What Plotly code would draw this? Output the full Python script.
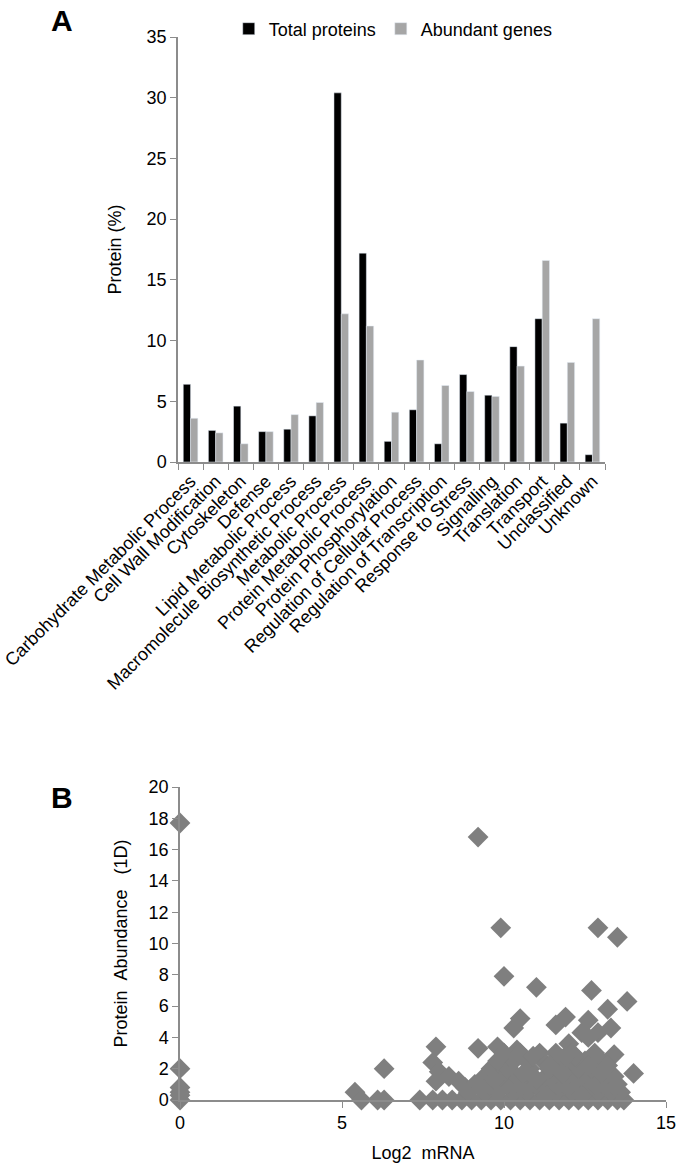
import plotly.graph_objects as go

# panel A: GO categories
categories = ['Carbohydrate Metabolic Process', 'Cell Wall Modification', 'Cytoskeleton', 'Defense',
              'Lipid Metabolic Process', 'Macromolecule Biosynthetic Process', 'Metabolic Process',
              'Protein Metabolic Process', 'Protein Phosphorylation', 'Regulation of Cellular Process',
              'Regulation of Transcription', 'Response to Stress', 'Signalling', 'Translation',
              'Transport', 'Unclassified', 'Unknown']
total_proteins = [6.4, 2.6, 4.6, 2.5, 2.7, 3.8, 30.4, 17.2, 1.7, 4.3, 1.5, 7.2, 5.5, 9.5, 11.8, 3.2, 0.6]
abundant_genes = [3.6, 2.4, 1.5, 2.5, 3.9, 4.9, 12.2, 11.2, 4.1, 8.4, 6.3, 5.8, 5.4, 7.9, 16.6, 8.2, 11.8]
bar_ticks = [0, 5, 10, 15, 20, 25, 30, 35]

# panel B: log2 mRNA vs protein abundance
log2_mrna = [
    0, 0, 0, 0, 0, 0,
    5.4, 5.6, 6.1, 6.3, 6.3,
    9.2, 9.9, 12.9, 13.5,
    10.0, 11.0, 12.7, 13.8, 13.2,
    11.9, 10.5, 12.6, 11.6, 10.3, 13.3, 12.4, 12.9, 12.6,
    7.9, 9.2, 9.8, 10.4, 12.0, 13.4, 14.0,
    7.8, 8.0, 8.3, 8.6, 8.8, 7.9,
    7.4, 7.8, 8.1, 8.4, 8.7, 9.0, 9.3, 9.6, 9.9, 10.2, 10.5, 10.8, 11.1, 11.4, 11.7,
    12.0, 12.3, 12.6, 12.9, 13.2, 13.5, 13.7,
    8.9, 9.4, 9.8, 10.3, 10.7, 11.2, 11.6, 12.1, 12.5, 12.9, 13.3, 13.6,
    9.1, 9.6, 10.1, 10.6, 11.0, 11.5, 11.9, 12.3, 12.8, 13.1, 13.5,
    9.4, 9.9, 10.4, 10.9, 11.3, 11.8, 12.2, 12.6, 13.0, 13.4,
    9.6, 10.1, 10.8, 11.4, 11.9, 12.3, 12.7, 13.1,
    9.8, 10.3, 10.7, 11.2, 11.7, 12.1, 12.5, 13.0,
    10.0, 10.5, 11.1, 11.6, 12.1, 12.8,
    9.3, 9.7, 10.6, 11.0, 11.4, 11.8, 12.2, 12.6, 13.0,
    10.9, 11.3, 11.9, 12.4, 13.2,
]
protein_abundance = [
    17.7, 2.0, 0.8, 0.5, 0.3, 0.0,
    0.5, 0.0, 0.0, 2.0, 0.0,
    16.8, 11.0, 11.0, 10.4,
    7.9, 7.2, 7.0, 6.3, 5.8,
    5.3, 5.2, 5.1, 4.8, 4.6, 4.6, 4.3, 4.3, 4.0,
    3.4, 3.3, 3.4, 3.2, 3.6, 2.9, 1.7,
    2.4, 1.8, 1.5, 1.2, 0.8, 1.2,
    0, 0, 0, 0, 0, 0, 0, 0, 0, 0, 0, 0, 0, 0, 0,
    0, 0, 0, 0, 0, 0, 0,
    0.5, 0.5, 0.5, 0.5, 0.5, 0.5, 0.5, 0.5, 0.5, 0.5, 0.5, 0.5,
    1.0, 1.0, 1.0, 1.0, 1.0, 1.0, 1.0, 1.0, 1.0, 1.0, 1.0,
    1.5, 1.5, 1.5, 1.5, 1.5, 1.5, 1.5, 1.5, 1.5, 1.5,
    2.0, 2.0, 2.0, 2.0, 2.0, 2.0, 2.0, 2.0,
    2.5, 2.5, 2.5, 2.5, 2.5, 2.5, 2.5, 2.5,
    3.0, 3.0, 3.0, 3.0, 3.0, 3.0,
    0.8, 1.3, 1.7, 1.3, 2.2, 1.7, 2.8, 2.2, 1.7,
    2.8, 0.3, 2.8, 0.3, 2.2,
]

W, H = 678, 1176
axis_grey = '#8c8c8c'
font = 'Arial, Liberation Sans, sans-serif'

fig = go.Figure()
fig.add_trace(go.Bar(x=categories, y=total_proteins, name='Total proteins',
                     marker_color='#000000', xaxis='x', yaxis='y'))
fig.add_trace(go.Bar(x=categories, y=abundant_genes, name='Abundant genes',
                     marker_color='#a6a6a6', xaxis='x', yaxis='y'))
fig.add_trace(go.Scatter(x=log2_mrna, y=protein_abundance, mode='markers', showlegend=False,
                         marker=dict(symbol='diamond', size=16, color='#7f7f7f'),
                         cliponaxis=False, xaxis='x2', yaxis='y2'))

common = dict(showline=True, linecolor=axis_grey, linewidth=1.5, ticks='outside', ticklen=6,
              tickcolor=axis_grey, showgrid=False, zeroline=False, automargin=False,
              tickfont=dict(size=18))

fig.update_layout(
    width=W, height=H,
    margin=dict(l=0, r=0, t=0, b=0),
    paper_bgcolor='white', plot_bgcolor='white',
    font=dict(family=font, size=16, color='#000000'),
    barmode='group', bargap=0.42, bargroupgap=0,
    legend=dict(orientation='h', x=0.58, xanchor='center', y=1 - 29 / H, yanchor='middle',
                font=dict(size=18), itemwidth=30, traceorder='normal'),
    xaxis=dict(domain=[178 / W, 605 / W], anchor='y', tickson='boundaries', tickangle=-45,
               tickmode='linear', dtick=1, **common),
    yaxis=dict(domain=[1 - 462 / H, 1 - 37 / H], anchor='x', range=[0, 35], tickvals=bar_ticks,
               title=dict(text='Protein (%)', font=dict(size=18), standoff=20), **common),
    xaxis2=dict(domain=[180 / W, 666 / W], anchor='y2', range=[0, 15], tickvals=[0, 5, 10, 15],
                title=dict(text='Log2\u00a0\u00a0mRNA', font=dict(size=18), standoff=14), **common),
    yaxis2=dict(domain=[1 - 1100 / H, 1 - 787 / H], anchor='x2', range=[0, 20], dtick=2,
                title=dict(text='Protein\u00a0\u00a0Abundance\u00a0\u00a0\u00a0(1D)',
                           font=dict(size=18), standoff=16), **common),
    annotations=[
        dict(text='<b>A</b>', x=62 / W, y=1 - 20 / H, xref='paper', yref='paper',
             xanchor='center', yanchor='middle', showarrow=False, font=dict(size=30)),
        dict(text='<b>B</b>', x=62 / W, y=1 - 797 / H, xref='paper', yref='paper',
             xanchor='center', yanchor='middle', showarrow=False, font=dict(size=30)),
    ],
)

# drop the default page margin so the 678x1176 figure fills the window exactly
fig.write_html('out.html', config={'displayModeBar': False},
               post_script="document.body.style.margin='0';")
